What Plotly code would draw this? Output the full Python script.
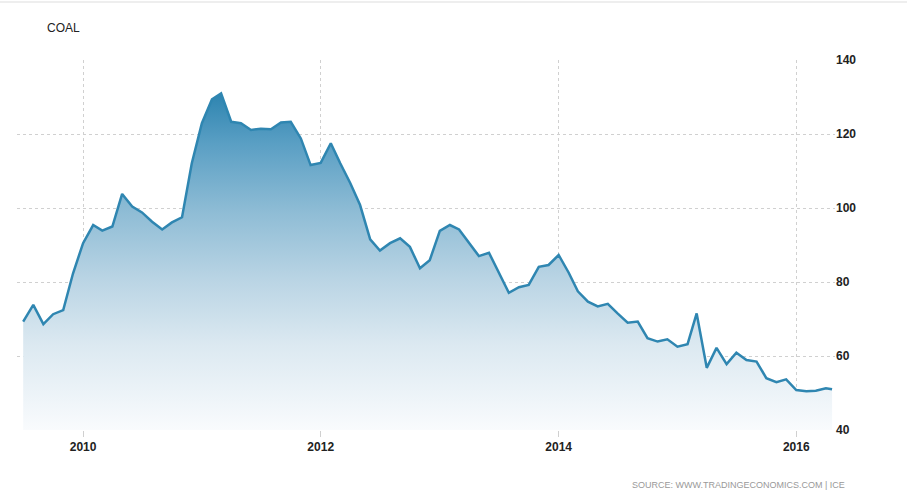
import plotly.graph_objects as go
import pandas as pd

# Monthly ICE coal price (USD/t), Jul 2009 - Apr 2016, plus latest quote
months = list(pd.date_range("2009-07-01", "2016-04-01", freq="MS").strftime("%Y-%m-%d"))
dates = months + ["2016-04-20"]

v2009 = [69.3, 73.8, 68.6, 71.3, 72.4, 82.3]
v2010 = [90.5, 95.4, 93.9, 95.0, 103.8, 100.4, 98.8, 96.3, 94.2, 96.1, 97.5, 112.1]
v2011 = [122.9, 129.4, 131.0, 123.3, 122.9, 121.1, 121.4, 121.3, 123.1, 123.3, 118.8, 111.6]
v2012 = [112.2, 117.5, 112.1, 106.7, 100.8, 91.5, 88.5, 90.5, 91.8, 89.5, 83.7, 85.9]
v2013 = [93.8, 95.4, 94.2, 90.6, 87.0, 87.9, 82.5, 77.1, 78.6, 79.2, 84.1, 84.6]
v2014 = [87.3, 82.5, 77.5, 74.7, 73.4, 74.1, 71.5, 69.0, 69.3, 64.8, 63.9, 64.5]
v2015 = [62.5, 63.2, 71.5, 56.8, 62.2, 57.8, 60.9, 58.9, 58.5, 54.0, 52.9, 53.7]
v2016 = [50.8, 50.5, 50.6, 51.3, 51.0]
values = v2009 + v2010 + v2011 + v2012 + v2013 + v2014 + v2015 + v2016

x_ticks = ["2010-01-01", "2012-01-01", "2014-01-01", "2016-01-01"]
x_tick_labels = ["2010", "2012", "2014", "2016"]
y_ticks = [40, 60, 80, 100, 120, 140]

title_text = "COAL"
source_text = "SOURCE: WWW.TRADINGECONOMICS.COM | ICE"

fig = go.Figure()
fig.add_trace(go.Scatter(
    x=dates, y=[40] * len(dates), mode="lines",
    line=dict(width=0), hoverinfo="skip", showlegend=False,
))
fig.add_trace(go.Scatter(
    x=dates, y=values, mode="lines",
    line=dict(color="#2f86b1", width=2.5),
    fill="tonexty",
    fillgradient=dict(
        type="vertical", start=40, stop=131,
        colorscale=[[0, "#f9fbfd"], [0.25, "#dce9f1"], [0.45, "#b9d4e4"],
                    [0.65, "#8ebcd5"], [0.85, "#5a9fc4"], [1, "#2d84b0"]],
    ),
    showlegend=False,
))

fig.update_layout(
    width=907, height=499,
    margin=dict(l=17, r=72, t=60, b=69),
    paper_bgcolor="white", plot_bgcolor="white",
    font=dict(family="Liberation Sans, Arial, sans-serif", size=12, color="#333"),
    xaxis=dict(
        type="date", range=["2009-06-12", "2016-04-29"],
        tickvals=x_ticks, ticktext=x_tick_labels,
        showgrid=True, gridcolor="#d0d0d0", griddash="dot", gridwidth=1,
        ticks="outside", ticklen=6, tickcolor="#d0d0d0",
        showline=False, zeroline=False,
        tickfont=dict(size=12, color="#222", weight="bold"),
    ),
    yaxis=dict(
        side="right", range=[40, 140], tickvals=y_ticks,
        showgrid=True, gridcolor="#d0d0d0", griddash="dot", gridwidth=1,
        ticks="", showline=False, zeroline=False,
        tickfont=dict(size=12, color="#222", weight="bold"),
    ),
    annotations=[
        dict(text=title_text, xref="paper", yref="paper",
             x=(45 - 17) / 818, y=1 + (60 - 28) / 370,
             xanchor="left", yanchor="middle", showarrow=False,
             font=dict(size=12, color="#222")),
        dict(text=source_text, xref="paper", yref="paper",
             x=(847 - 17) / 818, y=-(485 - 430) / 370,
             xanchor="right", yanchor="middle", showarrow=False,
             font=dict(size=9, color="#999")),
    ],
    shapes=[
        dict(type="line", xref="paper", yref="paper",
             x0=-17 / 818, x1=(907 - 17) / 818,
             y0=1 + (60 - 2) / 370, y1=1 + (60 - 2) / 370,
             line=dict(color="#dddddd", width=1)),
    ],
)

fig.write_html("out.html", config={"displayModeBar": False},
               post_script="document.body.style.margin='0';")
